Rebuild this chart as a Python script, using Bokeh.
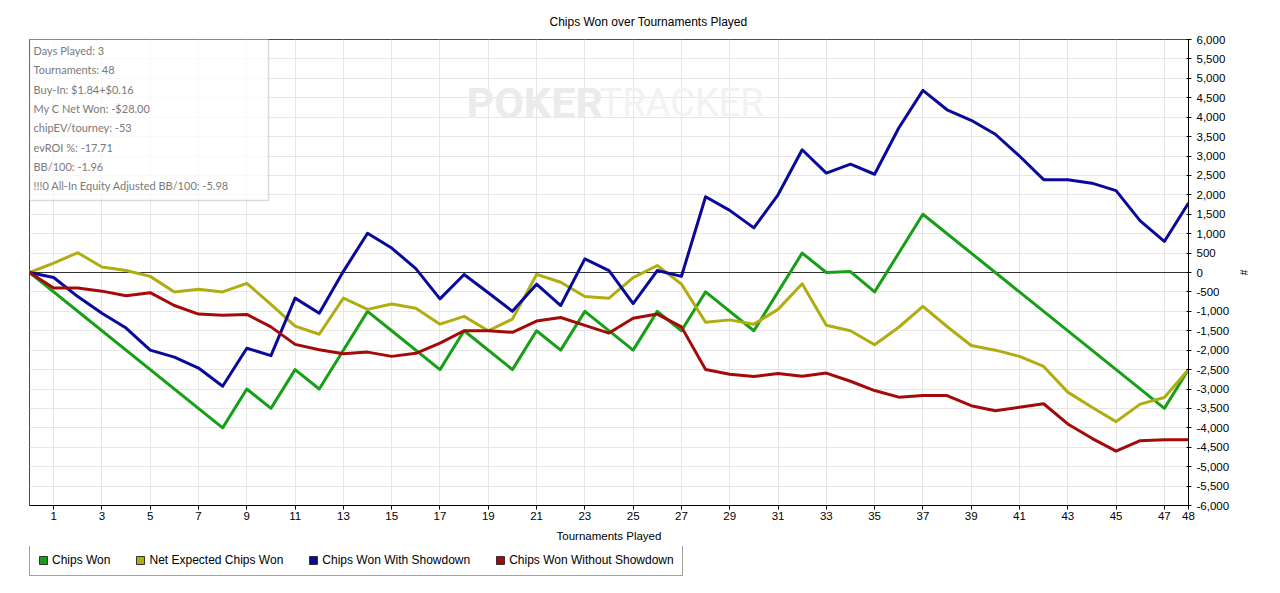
from bokeh.plotting import figure
from bokeh.layouts import column
from bokeh.models import (Range1d, FixedTicker, NumeralTickFormatter, Span, BoxAnnotation,
                          Label, Legend, LegendItem, Title)
from bokeh.embed import file_html
from bokeh.resources import INLINE

# ---------------- data ----------------
title_text = "Chips Won over Tournaments Played"
x_label = "Tournaments Played"
y_label = "#"

x_ticks = [1, 3, 5, 7, 9, 11, 13, 15, 17, 19, 21, 23, 25, 27, 29, 31, 33, 35, 37, 39, 41, 43, 45, 47, 48]
y_ticks = [-6000, -5500, -5000, -4500, -4000, -3500, -3000, -2500, -2000, -1500, -1000, -500, 0,
           500, 1000, 1500, 2000, 2500, 3000, 3500, 4000, 4500, 5000, 5500, 6000]

tournaments = [0, 1, 2, 3, 4, 5, 6, 7, 8, 9, 10, 11, 12, 13, 14, 15, 16, 17, 18, 19, 20, 21, 22, 23, 24,
               25, 26, 27, 28, 29, 30, 31, 32, 33, 34, 35, 36, 37, 38, 39, 40, 41, 42, 43, 44, 45, 46, 47, 48]

chips_won_x = [0, 8, 9, 10, 11, 12, 14, 15, 17, 18, 20, 21, 22, 23, 25, 26, 27, 28, 30, 32, 33, 34, 35, 37, 47, 48]
chips_won = [0, -4000, -3000, -3500, -2500, -3000, -1000, -1500, -2500, -1500, -2500, -1500, -2000,
             -1000, -2000, -1000, -1500, -500, -1500, 500, 0, 25, -500, 1500, -3500, -2500]

net_expected = [0, 240, 510, 140, 50, -100, -500, -430, -500, -280, -820, -1380, -1590, -660, -950,
                -810, -920, -1330, -1130, -1500, -1200, -50, -250, -620, -660, -130, 180, -300, -1280,
                -1220, -1330, -950, -290, -1360, -1500, -1860, -1410, -870, -1390, -1880, -2000, -2160,
                -2420, -3080, -3470, -3840, -3390, -3220, -2500]

with_showdown = [0, -130, -620, -1050, -1430, -2000, -2180, -2460, -2930, -1950, -2140, -660, -1050,
                 30, 1010, 630, 100, -680, -50, -520, -1000, -300, -850, 350, 50, -800, 50, -100, 1950,
                 1600, 1150, 2000, 3160, 2560, 2790, 2530, 3720, 4690, 4190, 3920, 3560, 3000, 2390,
                 2390, 2300, 2110, 1330, 800, 1790]

without_showdown = [0, -400, -400, -480, -600, -520, -850, -1070, -1100, -1080, -1400, -1850, -1990,
                    -2090, -2050, -2160, -2080, -1820, -1500, -1500, -1540, -1250, -1160, -1360, -1560,
                    -1180, -1070, -1400, -2500, -2620, -2680, -2600, -2670, -2590, -2800, -3040, -3210,
                    -3170, -3170, -3430, -3560, -3470, -3380, -3900, -4270, -4600, -4330, -4310, -4310]

series_names = ["Chips Won", "Net Expected Chips Won", "Chips Won With Showdown", "Chips Won Without Showdown"]
series_colors = ["#17a017", "#b0ad12", "#0a0a9a", "#a50a0a"]

info_lines = ["Days Played: 3", "Tournaments: 48", "Buy-In: $1.84+$0.16", "My C Net Won: -$28.00",
              "chipEV/tourney: -53", "evROI %: -17.71", "BB/100: -1.96",
              "!!!0 All-In Equity Adjusted BB/100: -5.98"]

# ---------------- layout helpers (picture pixels -> data) ----------------
X0, X1 = 0, 48
Y0, Y1 = -6000, 6000
FW, FH = 1159, 466
FL, FT = 29, 39
W, H = 1280, 593
TOP_H = 546          # height of the chart part; the legend strip sits below it
LEG_H = H - TOP_H
NAN = float("nan")


def X(px):
    return X0 + (px - FL) * (X1 - X0) / FW


def Y(py):
    return Y1 - (py - FT) * (Y1 - Y0) / FH


FONT = "Liberation Sans"

p = figure(frame_width=FW, frame_height=FH, min_border_left=FL, min_border_top=FT,
           min_border_right=W - FL - FW, min_border_bottom=TOP_H - FT - FH,
           x_range=Range1d(X0, X1), y_range=Range1d(Y0, Y1),
           y_axis_location="right", toolbar_location=None, output_backend="svg")
p.background_fill_color = "white"
p.border_fill_color = "white"
p.outline_line_color = "#4a4a4a"
p.outline_line_width = 1

p.title = Title(text=title_text, align="left", offset=520, standoff=21,
                text_font=FONT, text_font_size="12px", text_font_style="normal",
                text_color="black")

# axes
p.xaxis.ticker = FixedTicker(ticks=x_ticks)
p.yaxis.ticker = FixedTicker(ticks=y_ticks)
p.yaxis.formatter = NumeralTickFormatter(format="0,0")
p.xgrid.ticker = FixedTicker(ticks=x_ticks)
p.ygrid.ticker = FixedTicker(ticks=y_ticks)
for g in (p.xgrid, p.ygrid):
    g.grid_line_color = "#e6e6e6"
    g.grid_line_width = 1

for ax in (p.xaxis, p.yaxis):
    ax.axis_line_color = "black"
    ax.major_tick_line_color = "black"
    ax.minor_tick_line_color = None
    ax.major_label_text_font = FONT
    ax.major_label_text_font_size = "11.5px"
    ax.major_label_text_color = "black"
    ax.axis_label_text_font = FONT
    ax.axis_label_text_font_style = "normal"
    ax.axis_label_text_color = "black"

p.xaxis.major_tick_in = 0
p.xaxis.major_tick_out = 4
p.xaxis.major_label_standoff = 2
p.xaxis.axis_label = x_label
p.xaxis.axis_label_text_font_size = "11.5px"
p.xaxis.axis_label_standoff = 7

p.yaxis.major_tick_in = 2
p.yaxis.major_tick_out = 3
p.yaxis.major_label_standoff = 5
p.yaxis.axis_label = y_label
p.yaxis.axis_label_text_font_size = "10px"
p.yaxis.axis_label_standoff = 6

# watermark
p.add_layout(Label(x=X(466), y=Y(102), text="POKER", text_font="Roboto", text_font_style="bold",
                   text_font_size="43px", text_color="#ebebeb", text_baseline="alphabetic",
                   text_align="left", level="underlay"))
p.add_layout(Label(x=X(599), y=Y(102), text="TRACKER", text_font="Roboto",
                   text_font_size="38px", text_color="#f2f2f2", text_baseline="alphabetic",
                   text_align="left", level="underlay"))

# zero line
p.add_layout(Span(location=0, dimension="width", line_color="#333333", line_width=1, level="underlay"))

# series
p.line(chips_won_x, chips_won, line_color=series_colors[0], line_width=3, line_join="round")
p.line(tournaments, net_expected, line_color=series_colors[1], line_width=3, line_join="round")
p.line(tournaments, with_showdown, line_color=series_colors[2], line_width=3, line_join="round")
p.line(tournaments, without_showdown, line_color=series_colors[3], line_width=3, line_join="round")

# info box
p.add_layout(BoxAnnotation(left=X(29), right=X(268), top=Y(38), bottom=Y(200),
                           fill_color="white", fill_alpha=0.7,
                           line_color="#8a8a8a", line_width=1.5))
for i, t in enumerate(info_lines):
    p.add_layout(Label(x=X(33), y=Y(50 + i * 19.3), text=t, text_font="Lato",
                       text_font_size="11px", text_color="#7a7a7a",
                       text_baseline="middle", text_align="left"))

# ---------------- legend strip (own figure, so it is not clipped) ----------------
q = figure(width=W, height=LEG_H, x_range=Range1d(0, W), y_range=Range1d(0, LEG_H),
           x_axis_type=None, y_axis_type=None, toolbar_location=None, output_backend="svg",
           min_border=0)
q.outline_line_color = None
q.background_fill_color = "white"
q.border_fill_color = "white"
q.xgrid.visible = False
q.ygrid.visible = False

items = []
for name, c in zip(series_names, series_colors):
    # swatch-only renderer (no visible mark): a single undefined quad
    r = q.quad(left=[NAN], right=[NAN], top=[NAN], bottom=[NAN],
               fill_color=c, line_color="#333333", line_width=1)
    items.append(LegendItem(label=name, renderers=[r]))
legend = Legend(items=items, orientation="horizontal", location=(0, LEG_H - 30),
                glyph_width=10, glyph_height=10, label_height=12, label_standoff=4,
                spacing=25, padding=8, margin=0,
                label_text_font=FONT, label_text_font_size="12px", label_text_color="black",
                border_line_color="#444444", border_line_width=1,
                background_fill_color="white", background_fill_alpha=1.0)
q.add_layout(legend, "center")

layout = column(p, q, spacing=0)
open("out.html", "w").write(file_html(layout, INLINE))
